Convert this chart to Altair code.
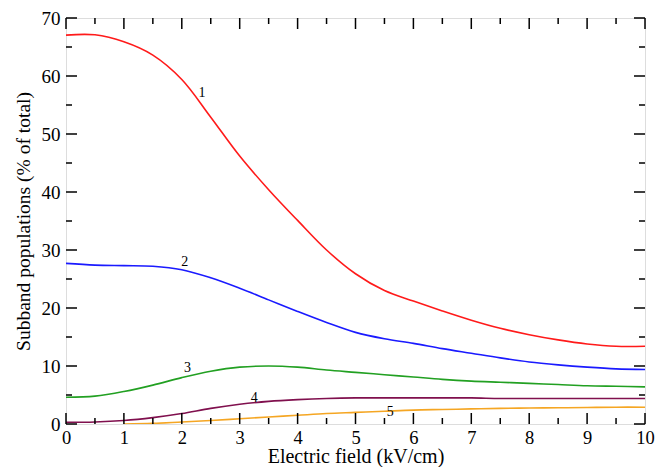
import altair as alt
import pandas as pd

# ---- data ----
field = [0, 0.5, 1, 1.5, 2, 2.5, 3, 3.5, 4, 4.5, 5, 5.5, 6, 6.5, 7, 7.5, 8, 8.5, 9, 9.5, 10]
sub1 = [67.05, 67.1, 65.9, 63.6, 59.4, 52.9, 46.2, 40.4, 35.1, 30.0, 25.9, 23.0, 21.2, 19.5, 17.9, 16.5, 15.4, 14.5, 13.8, 13.4, 13.4]
sub2 = [27.7, 27.4, 27.3, 27.2, 26.6, 25.2, 23.4, 21.4, 19.4, 17.5, 15.8, 14.7, 13.9, 13.0, 12.2, 11.4, 10.7, 10.2, 9.8, 9.5, 9.4]
sub3 = [4.6, 4.8, 5.6, 6.7, 8.0, 9.1, 9.8, 10.0, 9.8, 9.3, 8.9, 8.5, 8.1, 7.7, 7.4, 7.2, 7.0, 6.8, 6.6, 6.5, 6.4]
sub4 = [0.3, 0.35, 0.6, 1.1, 1.8, 2.7, 3.4, 3.9, 4.2, 4.4, 4.5, 4.5, 4.5, 4.5, 4.5, 4.4, 4.4, 4.4, 4.4, 4.4, 4.4]
field5 = [1, 1.5, 2, 2.5, 3, 3.5, 4, 4.5, 5, 5.5, 6, 6.5, 7, 7.5, 8, 8.5, 9, 9.5, 10]
sub5 = [0.0, 0.1, 0.35, 0.6, 0.9, 1.2, 1.5, 1.8, 2.0, 2.2, 2.4, 2.5, 2.6, 2.7, 2.75, 2.8, 2.85, 2.9, 2.9]

series_names = ["1", "2", "3", "4", "5"]
series_colors = ["#ff1a1a", "#1a1aff", "#22a022", "#80104e", "#f5a623"]

label_text = ["1", "2", "3", "4", "5"]
label_x = [2.35, 2.05, 2.1, 3.25, 5.6]
label_y = [57.0, 27.9, 9.7, 4.4, 2.1]

x_major = [0, 1, 2, 3, 4, 5, 6, 7, 8, 9, 10]
x_minor = [0.5, 1.5, 2.5, 3.5, 4.5, 5.5, 6.5, 7.5, 8.5, 9.5]
y_major = [0, 10, 20, 30, 40, 50, 60, 70]
y_minor = [5, 15, 25, 35, 45, 55, 65]

# ---- build tables ----
rows = []
for name, xs_, ys_ in zip(series_names, [field] * 4 + [field5], [sub1, sub2, sub3, sub4, sub5]):
    for xv, yv in zip(xs_, ys_):
        rows.append({"x": xv, "y": yv, "s": name})
df = pd.DataFrame(rows)
labels = pd.DataFrame({"t": label_text, "x": label_x, "y": label_y})
xmaj = pd.DataFrame({"v": x_major})
xmin = pd.DataFrame({"v": x_minor})
ymaj = pd.DataFrame({"v": y_major})
ymin = pd.DataFrame({"v": y_minor})

W, H = 579, 406
FONT = "Liberation Serif, Times New Roman, serif"

xs = alt.Scale(domain=[0, 10], nice=False, zero=False)
ys = alt.Scale(domain=[0, 70], nice=False, zero=False)

lines = alt.Chart(df).mark_line(strokeWidth=1.6, interpolate="catmull-rom", clip=True).encode(
    x=alt.X("x:Q", scale=xs,
            axis=alt.Axis(values=x_major, format="d", title="Electric field (kV/cm)", ticks=False,
                          domain=False, grid=False, labelFontSize=18.5, labelFont=FONT,
                          labelColor="black", labelPadding=4, titleFont=FONT, titleFontSize=20,
                          titleFontWeight="normal", titleColor="black", titleY=38.5,
                          titleBaseline="alphabetic", labelFlush=False)),
    y=alt.Y("y:Q", scale=ys,
            axis=alt.Axis(values=y_major, format="d", title="Subband populations (% of total)",
                          ticks=False, domain=False, grid=False, labelFontSize=19, labelFont=FONT,
                          labelColor="black", labelPadding=6, titleFont=FONT, titleFontSize=19.5,
                          titleFontWeight="normal", titleColor="black", titleX=-37,
                          titleBaseline="alphabetic", labelFlush=False)),
    color=alt.Color("s:N", scale=alt.Scale(domain=series_names, range=series_colors), legend=None),
    detail="s:N",
)

texts = alt.Chart(labels).mark_text(font=FONT, fontSize=14, color="black").encode(
    x=alt.X("x:Q", scale=xs), y=alt.Y("y:Q", scale=ys), text="t:N"
)

def xt(d, length):
    bot = alt.Chart(d).mark_rule(color="black", strokeWidth=1.5).encode(
        x=alt.X("v:Q", scale=xs), y=alt.value(H), y2=alt.value(H - length))
    top = alt.Chart(d).mark_rule(color="black", strokeWidth=1.5).encode(
        x=alt.X("v:Q", scale=xs), y=alt.value(0), y2=alt.value(length))
    return bot + top

def yt(d, length):
    left = alt.Chart(d).mark_rule(color="black", strokeWidth=1.5).encode(
        y=alt.Y("v:Q", scale=ys), x=alt.value(0), x2=alt.value(length))
    right = alt.Chart(d).mark_rule(color="black", strokeWidth=1.5).encode(
        y=alt.Y("v:Q", scale=ys), x=alt.value(W), x2=alt.value(W - length))
    return left + right

chart = alt.layer(
    lines, texts, xt(xmaj, 11), xt(xmin, 6), yt(ymaj, 11), yt(ymin, 6)
).properties(
    width=W, height=H,
    autosize=alt.AutoSizeParams(type="none"),
    padding={"left": 66, "top": 18, "right": 22, "bottom": 43},
).configure_view(
    stroke="black", strokeWidth=1.8
).configure(background="white", font=FONT)

chart.save("out.html", embed_options={"renderer": "svg", "actions": False})
